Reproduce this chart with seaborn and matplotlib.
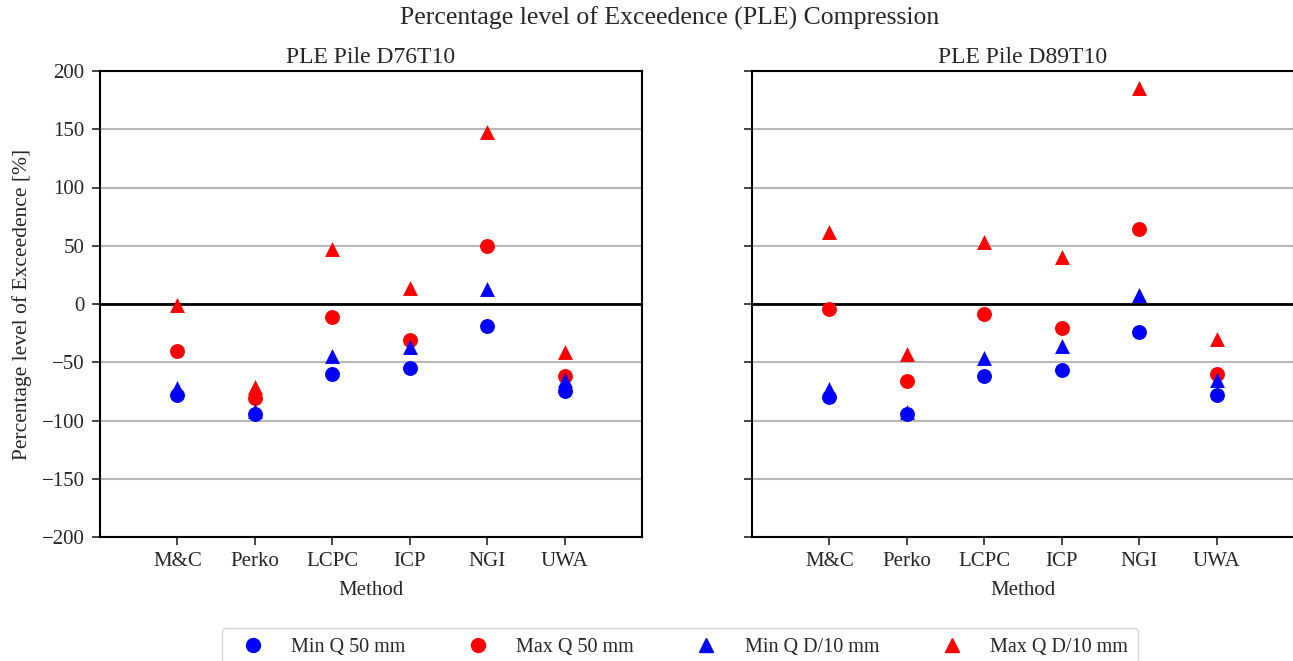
import matplotlib
matplotlib.use("Agg")
import matplotlib.pyplot as plt
import seaborn as sns
import pandas as pd
from matplotlib.lines import Line2D

methods = ["M&C", "Perko", "LCPC", "ICP", "NGI", "UWA"]

# Pile D76T10
d76_min_q50 = [-78, -94, -60, -55, -19, -75]
d76_max_q50 = [-40, -81, -11, -31, 50, -62]
d76_min_qd10 = [-72, -92, -45, -37, 13, -65]
d76_max_qd10 = [-1, -71, 47, 14, 148, -41]

# Pile D89T10
d89_min_q50 = [-80, -94, -62, -57, -24, -78]
d89_max_q50 = [-4, -66, -9, -21, 64, -60]
d89_min_qd10 = [-73, -93, -46, -36, 8, -65]
d89_max_qd10 = [62, -43, 53, 40, 185, -30]

series_labels = ["Min Q 50 mm", "Max Q 50 mm", "Min Q D/10 mm", "Max Q D/10 mm"]
series_colors = ["blue", "red", "blue", "red"]
series_markers = ["o", "o", "^", "^"]

panels = [
    ("PLE Pile D76T10", [d76_min_q50, d76_max_q50, d76_min_qd10, d76_max_qd10]),
    ("PLE Pile D89T10", [d89_min_q50, d89_max_q50, d89_min_qd10, d89_max_qd10]),
]

sns.set_theme(style="white")
plt.rcParams["font.family"] = ["Liberation Serif", "DejaVu Serif"]
plt.rcParams["axes.unicode_minus"] = True

fig = plt.figure(figsize=(12.93, 6.61), dpi=100)
ax1 = fig.add_axes([100 / 1293, 124 / 661, 542 / 1293, 466 / 661])
ax2 = fig.add_axes([752 / 1293, 124 / 661, 542 / 1293, 466 / 661], sharey=ax1)

for ax, (title, series) in zip([ax1, ax2], panels):
    for vals, lab, col, mk in zip(series, series_labels, series_colors, series_markers):
        df = pd.DataFrame({"Method": methods, "PLE": vals})
        sns.scatterplot(data=df, x="Method", y="PLE", ax=ax, color=col, marker=mk,
                        s=115, linewidth=0, label=lab, legend=False, zorder=3)
    ax.axhline(0, color="black", lw=2, zorder=2)
    ax.set_xlim(-1, 6)
    ax.set_ylim(-200, 200)
    ax.set_yticks(range(-200, 201, 50))
    ax.grid(axis="y", color="#b8b8b8", lw=1.5, zorder=0)
    ax.grid(axis="x", visible=False)
    ax.set_axisbelow(True)
    ax.set_title(title, fontsize=17, pad=6)
    ax.set_xlabel("Method", fontsize=15, labelpad=7)
    ax.tick_params(axis="both", labelsize=15, length=6, width=1.2, direction="out",
                   bottom=True, left=True, pad=5)
    for sp in ax.spines.values():
        sp.set_color("black")
        sp.set_linewidth(1.5)

ax1.set_ylabel("Percentage level of Exceedence [%]", fontsize=15.5, labelpad=7)
ax2.set_ylabel("")
plt.setp(ax2.get_yticklabels(), visible=False)

fig.text(0.518, 1 - 18 / 661, "Percentage level of Exceedence (PLE) Compression",
         fontsize=18.5, ha="center", va="center")

handles = [Line2D([], [], linestyle="none", marker=m, color=c, markersize=10)
           for c, m in zip(series_colors, series_markers)]
leg = fig.legend(handles, series_labels, loc="upper center", ncol=4,
                 bbox_to_anchor=(0.526, 1 - 618 / 661), fontsize=14.5, frameon=True,
                 handletextpad=0.9, columnspacing=2.6, borderpad=0.5)
leg.get_frame().set_edgecolor("#cccccc")

fig.savefig("out.png", dpi=100)
